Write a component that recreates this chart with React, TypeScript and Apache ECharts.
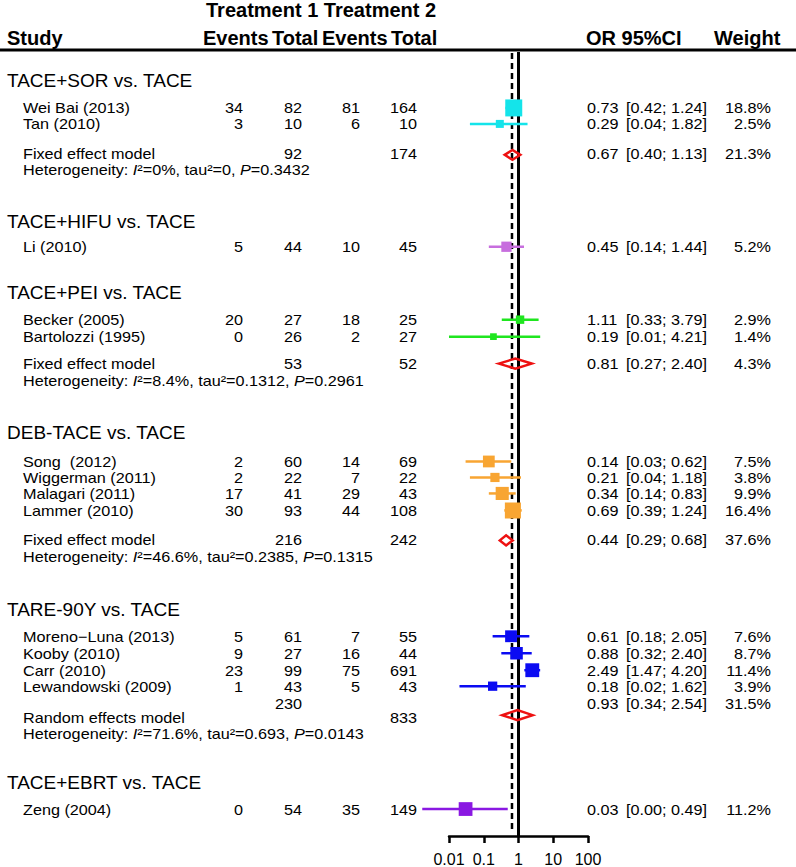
import React, { useEffect, useRef } from "react";
import * as echarts from "echarts";

// ---------- data ----------
const groupTitles = [
  "TACE+SOR vs. TACE",
  "TACE+HIFU vs. TACE",
  "TACE+PEI vs. TACE",
  "DEB-TACE vs. TACE",
  "TARE-90Y vs. TACE",
  "TACE+EBRT vs. TACE",
];
const groupColors = ["#14E4EA", "#C76EDE", "#1FE61F", "#F8A532", "#0B0BF2", "#8A18E2"];

const studyNames = [
  "Wei Bai (2013)",
  "Tan (2010)",
  "Li (2010)",
  "Becker (2005)",
  "Bartolozzi (1995)",
  "Song  (2012)",
  "Wiggerman (2011)",
  "Malagari (2011)",
  "Lammer (2010)",
  "Moreno\u2212Luna (2013)",
  "Kooby (2010)",
  "Carr (2010)",
  "Lewandowski (2009)",
  "Zeng (2004)",
];
const studyGroup = [0, 0, 1, 2, 2, 3, 3, 3, 3, 4, 4, 4, 4, 5];
const events1 = [34, 3, 5, 20, 0, 2, 2, 17, 30, 5, 9, 23, 1, 0];
const total1 = [82, 10, 44, 27, 26, 60, 22, 41, 93, 61, 27, 99, 43, 54];
const events2 = [81, 6, 10, 18, 2, 14, 7, 29, 44, 7, 16, 75, 5, 35];
const total2 = [164, 10, 45, 25, 27, 69, 22, 43, 108, 55, 44, 691, 43, 149];
const oddsRatio = [0.73, 0.29, 0.45, 1.11, 0.19, 0.14, 0.21, 0.34, 0.69, 0.61, 0.88, 2.49, 0.18, 0.03];
const ciLow = [0.42, 0.04, 0.14, 0.33, 0.01, 0.03, 0.04, 0.14, 0.39, 0.18, 0.32, 1.47, 0.02, 0.0017];
const ciHigh = [1.24, 1.82, 1.44, 3.79, 4.21, 0.62, 1.18, 0.83, 1.24, 2.05, 2.4, 4.2, 1.62, 0.49];
const weights = [18.8, 2.5, 5.2, 2.9, 1.4, 7.5, 3.8, 9.9, 16.4, 7.6, 8.7, 11.4, 3.9, 11.2];

const pooledGroup = [0, 2, 3, 4];
const pooledLabel = ["Fixed effect model", "Fixed effect model", "Fixed effect model", "Random effects model"];
const pooledTotal1 = [92, 53, 216, 230];
const pooledTotal2 = [174, 52, 242, 833];
const pooledOR = [0.67, 0.81, 0.44, 0.93];
const pooledLow = [0.4, 0.27, 0.29, 0.34];
const pooledHigh = [1.13, 2.4, 0.68, 2.54];
const pooledWeight = [21.3, 4.3, 37.6, 31.5];

const hetI2 = [0, 8.4, 46.6, 71.6];
const hetTau2 = ["0", "0.1312", "0.2385", "0.693"];
const hetP = ["0.3432", "0.2961", "0.1315", "0.0143"];

const overallOR = 0.65;
const tickLabels = ["0.01", "0.1", "1", "10", "100"];

// ---------- layout (pixel rows) ----------
const titleY = [80, 221, 292, 432, 609, 782];
const studyY = [108, 124, 247, 320, 337, 462, 478, 494, 511, 637, 654, 671, 687, 810];
const pooledY = [155, 364, 541, 716];
const pooledUpperY = [154, 364, 540, 704];
const pooledLabelY = [154, 364, 540, 718];
const hetY = [169.5, 381, 557, 734];

const FONT = '"Liberation Sans", Arial, Helvetica, sans-serif';

function txt(
  text: string,
  x: number,
  y: number,
  size: number,
  align: string,
  bold = false,
  rich?: any,
  scaleX = 1
) {
  const font = `${bold ? "bold " : ""}${size}px ${FONT}`;
  return {
    type: "text",
    x,
    y,
    scaleX,
    silent: true,
    style: {
      text,
      fill: "#000",
      font,
      align,
      verticalAlign: "middle",
      textAlign: align,
      textVerticalAlign: "middle",
      rich,
    },
  };
}

const body = (text: string, x: number, y: number, align: string, rich?: any) =>
  txt(text, x, y, 15, align, false, rich, 1.08);

export default function App() {
  const ref = useRef<HTMLDivElement>(null);

  useEffect(() => {
    if (!ref.current) return;
    const chart = echarts.init(ref.current, undefined, { renderer: "svg" });

    const graphics: any[] = [];
    // header
    graphics.push(txt("Treatment 1 Treatment 2", 206, 10, 20, "left", true));
    graphics.push(txt("Study", 7, 38, 20, "left", true));
    graphics.push(txt("Events", 203, 38, 20, "left", true));
    graphics.push(txt("Total", 272, 38, 20, "left", true));
    graphics.push(txt("Events", 322, 38, 20, "left", true));
    graphics.push(txt("Total", 391, 38, 20, "left", true));
    graphics.push(txt("OR 95%CI", 586, 38, 20, "left", true));
    graphics.push(txt("Weight", 714, 38, 20, "left", true));
    graphics.push({
      type: "line",
      silent: true,
      shape: { x1: 0, y1: 50, x2: 796, y2: 50 },
      style: { stroke: "#000", lineWidth: 3 },
    });

    groupTitles.forEach((t, i) => graphics.push(txt(t, 7, titleY[i], 19, "left")));

    studyNames.forEach((n, i) => {
      const y = studyY[i];
      graphics.push(body(n, 23, y, "left"));
      graphics.push(body(String(events1[i]), 243, y, "right"));
      graphics.push(body(String(total1[i]), 302, y, "right"));
      graphics.push(body(String(events2[i]), 360, y, "right"));
      graphics.push(body(String(total2[i]), 417, y, "right"));
      graphics.push(body(oddsRatio[i].toFixed(2), 587, y, "left"));
      graphics.push(body(`[${ciLow[i].toFixed(2)}; ${ciHigh[i].toFixed(2)}]`, 626, y, "left"));
      graphics.push(body(`${weights[i].toFixed(1)}%`, 771, y, "right"));
    });

    pooledLabel.forEach((l, i) => {
      graphics.push(body(l, 23, pooledLabelY[i], "left"));
      graphics.push(body(String(pooledTotal1[i]), 302, pooledUpperY[i], "right"));
      graphics.push(body(String(pooledTotal2[i]), 417, pooledLabelY[i], "right"));
      graphics.push(body(pooledOR[i].toFixed(2), 587, pooledUpperY[i], "left"));
      graphics.push(
        body(`[${pooledLow[i].toFixed(2)}; ${pooledHigh[i].toFixed(2)}]`, 626, pooledUpperY[i], "left")
      );
      graphics.push(body(`${pooledWeight[i].toFixed(1)}%`, 771, pooledUpperY[i], "right"));
      graphics.push(
        body(
          `Heterogeneity: {i|I}\u00B2=${hetI2[i]}%, tau\u00B2=${hetTau2[i]}, {i|P}=${hetP[i]}`,
          23,
          hetY[i],
          "left",
          { i: { font: `italic 15px ${FONT}`, fill: "#000" } }
        )
      );
    });

    const studyData = studyNames.map((_, i) => [
      oddsRatio[i],
      ciLow[i],
      ciHigh[i],
      studyY[i],
      weights[i],
      studyGroup[i],
    ]);
    const pooledData = pooledGroup.map((_, i) => [pooledOR[i], pooledLow[i], pooledHigh[i], pooledY[i]]);
    const refData = [
      [1, 52, 837, 0],
      [overallOR, 53, 833, 1],
    ];

    chart.setOption({
      animation: false,
      graphic: graphics,
      grid: { left: 449, right: 208, top: 50, bottom: 30, containLabel: false },
      xAxis: {
        type: "log",
        logBase: 10,
        min: 0.01,
        max: 100,
        axisLine: { show: true, lineStyle: { color: "#000", width: 2.5 } },
        axisTick: { show: true, length: 7, lineStyle: { color: "#000", width: 2.5 } },
        splitLine: { show: false },
        axisLabel: {
          color: "#000",
          fontSize: 16,
          fontFamily: FONT,
          margin: 15,
          formatter: (v: number) => tickLabels[Math.round(Math.log10(v)) + 2] ?? "",
        },
      },
      yAxis: { type: "value", min: 50, max: 837, inverse: true, show: false },
      series: [
        {
          type: "custom",
          data: refData,
          encode: { x: 0, y: [1, 2] },
          silent: true,
          renderItem: (params: any, api: any) => {
            const top = api.coord([api.value(0), api.value(1)]);
            const bot = api.coord([api.value(0), api.value(2)]);
            const dashed = api.value(3) === 1;
            return {
              type: "line",
              shape: { x1: top[0], y1: top[1], x2: bot[0], y2: bot[1] },
              style: {
                stroke: "#000",
                lineWidth: dashed ? 2.5 : 3,
                lineDash: dashed ? [6, 4] : null,
              },
            };
          },
        },
        {
          type: "custom",
          data: studyData,
          encode: { x: [0, 1, 2], y: 3 },
          silent: true,
          renderItem: (params: any, api: any) => {
            const y = api.value(3);
            const c = api.coord([api.value(0), y]);
            const lo = api.coord([api.value(1), y]);
            const hi = api.coord([api.value(2), y]);
            const s = 2.85 + 3.26 * Math.sqrt(api.value(4));
            const color = groupColors[api.value(5)];
            return {
              type: "group",
              children: [
                {
                  type: "line",
                  shape: { x1: lo[0], y1: lo[1], x2: hi[0], y2: hi[1] },
                  style: { stroke: color, lineWidth: 2.5 },
                },
                {
                  type: "rect",
                  shape: { x: c[0] - s / 2, y: c[1] - s / 2, width: s, height: s },
                  style: { fill: color },
                },
              ],
            };
          },
        },
        {
          type: "custom",
          data: pooledData,
          encode: { x: [0, 1, 2], y: 3 },
          silent: true,
          renderItem: (params: any, api: any) => {
            const y = api.value(3);
            const c = api.coord([api.value(0), y]);
            const lo = api.coord([api.value(1), y]);
            const hi = api.coord([api.value(2), y]);
            const h = 5;
            return {
              type: "polygon",
              shape: {
                points: [
                  [lo[0], c[1]],
                  [c[0], c[1] - h],
                  [hi[0], c[1]],
                  [c[0], c[1] + h],
                ],
              },
              style: { fill: "rgba(255,255,255,0)", stroke: "#EE1111", lineWidth: 2.5 },
            };
          },
        },
      ],
    });

    return () => chart.dispose();
  }, []);

  return (
    <div
      ref={ref}
      style={{ position: "absolute", left: 0, top: 0, width: 796, height: 867, background: "#fff" }}
    />
  );
}
